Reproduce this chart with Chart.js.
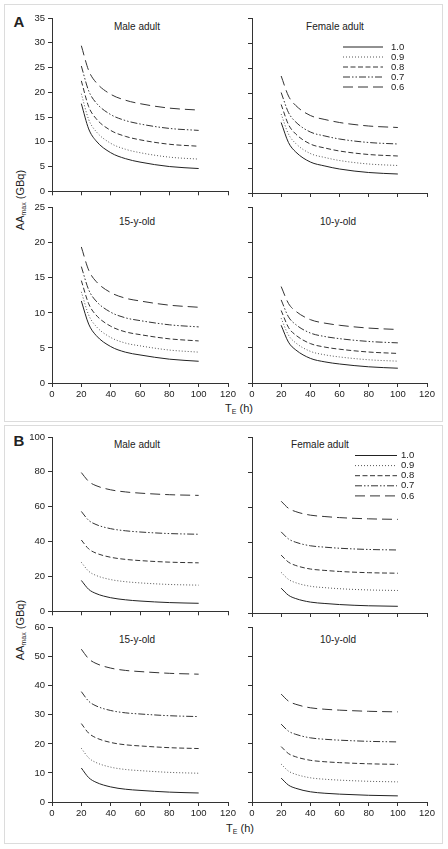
<!DOCTYPE html>
<html>
<head>
<meta charset="utf-8">
<script src="https://cdn.jsdelivr.net/npm/chart.js@4.4.1/dist/chart.umd.min.js"></script>
<style>
    body { margin: 0; background: #fff; width: 448px; height: 849px; position: relative; overflow: hidden;
           font-family: "Liberation Sans", Arial, sans-serif; color: #222; }
    .frame { position: absolute; border: 1.5px solid #dcdcdc; box-sizing: border-box; }
    canvas { position: absolute; }
    .txt { position: absolute; white-space: nowrap; font-size: 10px; transform: translate(-50%, -50%); }
    .tag { font-size: 15px; font-weight: bold; }
    .ytitle { font-size: 11px; transform: translate(-50%, -50%) rotate(-90deg); }
    .xtitle { font-size: 11px; }
    sub { font-size: 7px; vertical-align: -2px; }
</style>
</head>
<body>
<div class="frame" style="left:4px; top:4px; width:439px; height:418px;"></div>
<div class="frame" style="left:4px; top:425px; width:439px; height:419px;"></div>

<div class="txt tag" style="left:19px; top:21px;">A</div>
<div class="txt tag" style="left:19px; top:440px;">B</div>

<div class="txt" style="left:137px; top:26px;">Male adult</div>
<div class="txt" style="left:335px; top:26px;">Female adult</div>
<div class="txt" style="left:137px; top:221px;">15-y-old</div>
<div class="txt" style="left:338px; top:221px;">10-y-old</div>
<div class="txt" style="left:137px; top:444px;">Male adult</div>
<div class="txt" style="left:320px; top:444px;">Female adult</div>
<div class="txt" style="left:137px; top:639px;">15-y-old</div>
<div class="txt" style="left:338px; top:639px;">10-y-old</div>

<div class="txt ytitle" style="left:20px; top:200px;">AA<sub>max</sub> (GBq)</div>
<div class="txt ytitle" style="left:20px; top:630px;">AA<sub>max</sub> (GBq)</div>
<div class="txt xtitle" style="left:239px; top:408px;">T<sub>E</sub> (h)</div>
<div class="txt xtitle" style="left:240px; top:828px;">T<sub>E</sub> (h)</div>

<script>
// T_E (h) sample points
const TE = [20, 25, 30, 40, 50, 60, 80, 100];
const FRACTIONS = ['1.0', '0.9', '0.8', '0.7', '0.6'];

// panel A, rows in FRACTIONS order
const aMaleAdult = [
    [17.7, 12.6, 10.2, 7.8, 6.6, 5.9, 5.0, 4.6],
    [19.7, 14.5, 12.1, 9.7, 8.5, 7.8, 6.9, 6.5],
    [22.3, 17.1, 14.7, 12.3, 11.1, 10.4, 9.5, 9.1],
    [25.3, 20.3, 17.9, 15.5, 14.3, 13.6, 12.7, 12.3],
    [29.4, 24.4, 22.0, 19.6, 18.4, 17.7, 16.8, 16.4]
];
const aFemaleAdult = [
    [14.1, 10.1, 8.2, 6.2, 5.4, 4.8, 4.1, 3.8],
    [15.8, 11.8, 9.9, 7.9, 7.1, 6.5, 5.8, 5.5],
    [17.7, 13.7, 11.8, 9.8, 9.0, 8.4, 7.7, 7.4],
    [20.1, 16.1, 14.2, 12.2, 11.4, 10.8, 10.1, 9.8],
    [23.4, 19.4, 17.5, 15.5, 14.7, 14.1, 13.4, 13.1]
];
const a15yOld = [
    [11.7, 8.4, 6.8, 5.2, 4.4, 4.0, 3.4, 3.1],
    [13.0, 9.7, 8.1, 6.5, 5.7, 5.3, 4.7, 4.4],
    [14.6, 11.3, 9.7, 8.1, 7.3, 6.9, 6.3, 6.0],
    [16.6, 13.3, 11.7, 10.1, 9.3, 8.9, 8.3, 8.0],
    [19.4, 16.1, 14.5, 12.9, 12.1, 11.7, 11.1, 10.8]
];
const a10yOld = [
    [8.2, 5.8, 4.7, 3.5, 3.0, 2.7, 2.3, 2.1],
    [9.2, 6.8, 5.7, 4.5, 4.0, 3.7, 3.3, 3.1],
    [10.3, 7.9, 6.8, 5.6, 5.1, 4.8, 4.4, 4.2],
    [11.8, 9.4, 8.3, 7.1, 6.6, 6.3, 5.9, 5.7],
    [13.7, 11.3, 10.2, 9.0, 8.5, 8.2, 7.8, 7.6]
];

// panel B
const bMaleAdult = [
    [17.7, 12.6, 10.2, 7.8, 6.6, 5.9, 5.0, 4.6],
    [28.1, 23.0, 20.6, 18.2, 17.0, 16.3, 15.4, 15.0],
    [40.9, 35.8, 33.4, 31.0, 29.8, 29.1, 28.2, 27.8],
    [57.3, 52.2, 49.8, 47.4, 46.2, 45.5, 44.6, 44.2],
    [79.6, 74.5, 72.1, 69.7, 68.5, 67.8, 66.9, 66.5]
];
const bFemaleAdult = [
    [14.1, 10.1, 8.2, 6.2, 5.4, 4.8, 4.1, 3.8],
    [23.1, 19.1, 17.2, 15.2, 14.4, 13.8, 13.1, 12.8],
    [32.9, 28.9, 27.0, 25.0, 24.2, 23.6, 22.9, 22.6],
    [46.1, 42.1, 40.2, 38.2, 37.4, 36.8, 36.1, 35.8],
    [63.5, 59.5, 57.6, 55.6, 54.8, 54.2, 53.5, 53.2]
];
const b15yOld = [
    [11.7, 8.4, 6.8, 5.2, 4.4, 4.0, 3.4, 3.1],
    [18.5, 15.2, 13.6, 12.0, 11.2, 10.8, 10.2, 9.9],
    [27.0, 23.7, 22.1, 20.5, 19.7, 19.3, 18.7, 18.4],
    [38.0, 34.7, 33.1, 31.5, 30.7, 30.3, 29.7, 29.4],
    [52.6, 49.3, 47.7, 46.1, 45.3, 44.9, 44.3, 44.0]
];
const b10yOld = [
    [8.2, 5.8, 4.7, 3.5, 3.0, 2.7, 2.3, 2.1],
    [13.0, 10.6, 9.5, 8.3, 7.8, 7.5, 7.1, 6.9],
    [19.0, 16.6, 15.5, 14.3, 13.8, 13.5, 13.1, 12.9],
    [26.7, 24.3, 23.2, 22.0, 21.5, 21.2, 20.8, 20.6],
    [37.0, 34.6, 33.5, 32.3, 31.8, 31.5, 31.1, 30.9]
];

// line style per fraction
const DASHES = [[], [1, 2], [5, 2.5], [7, 2, 1.5, 2, 1.5, 2], [10, 5]];
const LINE_COLORS = ['#222', '#555', '#333', '#333', '#333'];
const LINE_WIDTHS = [1, 1, 1, 1, 1];

const FONT = '"Liberation Sans", Arial, sans-serif';

// legend drawn inside the plot area
const lineKeyPlugin = {
    id: 'lineKey',
    afterDraw(chart, args, opts) {
        if (!opts || !opts.show) return;
        const ctx = chart.ctx;
        ctx.save();
        chart.data.datasets.forEach((ds, i) => {
            const y = opts.y + i * opts.dy;
            ctx.beginPath();
            ctx.setLineDash(ds.borderDash);
            ctx.lineWidth = ds.borderWidth;
            ctx.strokeStyle = ds.borderColor;
            ctx.moveTo(opts.x0, y);
            ctx.lineTo(opts.x1, y);
            ctx.stroke();
            ctx.setLineDash([]);
            ctx.fillStyle = '#222';
            ctx.font = '9.5px ' + FONT;
            ctx.textBaseline = 'middle';
            ctx.fillText(ds.label, opts.tx, y);
        });
        ctx.restore();
    }
};

const panels = [
    { rows: aMaleAdult,   left: 22,  top: 8,   w: 218, h: 192, plot: [52, 18, 228, 193],  yMax: 35,  yStep: 5,  yLab: true,  xLab: false },
    { rows: aFemaleAdult, left: 240, top: 8,   w: 202, h: 192, plot: [252, 18, 427, 193], yMax: 35,  yStep: 5,  yLab: false, xLab: false,
      key: { x0: 343, x1: 383, tx: 391, y: 47, dy: 10 } },
    { rows: a15yOld,      left: 22,  top: 199, w: 218, h: 203, plot: [52, 207, 228, 383], yMax: 25,  yStep: 5,  yLab: true,  xLab: true },
    { rows: a10yOld,      left: 240, top: 199, w: 202, h: 203, plot: [252, 207, 427, 383],yMax: 25,  yStep: 5,  yLab: false, xLab: true },
    { rows: bMaleAdult,   left: 22,  top: 428, w: 218, h: 192, plot: [52, 437, 228, 613], yMax: 100, yStep: 20, yLab: true,  xLab: false },
    { rows: bFemaleAdult, left: 240, top: 428, w: 202, h: 192, plot: [252, 437, 427, 613],yMax: 100, yStep: 20, yLab: false, xLab: false,
      key: { x0: 355, x1: 397, tx: 401, y: 455.5, dy: 10.1 } },
    { rows: b15yOld,      left: 22,  top: 619, w: 218, h: 203, plot: [52, 627, 228, 802], yMax: 60,  yStep: 10, yLab: true,  xLab: true },
    { rows: b10yOld,      left: 240, top: 619, w: 202, h: 203, plot: [252, 627, 427, 802],yMax: 60,  yStep: 10, yLab: false, xLab: true }
];

panels.forEach(p => {
    const canvas = document.createElement('canvas');
    canvas.width = p.w;
    canvas.height = p.h;
    canvas.style.left = p.left + 'px';
    canvas.style.top = p.top + 'px';
    document.body.appendChild(canvas);

    const yWidth = p.plot[0] - p.left;
    const padRight = p.left + p.w - p.plot[2];
    const padTop = p.plot[1] - p.top;
    const xHeight = p.top + p.h - p.plot[3];

    const datasets = p.rows.map((vals, i) => ({
        label: FRACTIONS[i],
        data: vals.map((v, j) => ({ x: TE[j], y: v })),
        borderColor: LINE_COLORS[i],
        borderWidth: LINE_WIDTHS[i],
        borderDash: DASHES[i],
        pointRadius: 0,
        fill: false,
        cubicInterpolationMode: 'monotone'
    }));

    const key = p.key ? {
        show: true,
        x0: p.key.x0 - p.left, x1: p.key.x1 - p.left,
        tx: p.key.tx - p.left, y: p.key.y - p.top, dy: p.key.dy
    } : { show: false };

    const axisColor = '#333';
    new Chart(canvas.getContext('2d'), {
        type: 'line',
        data: { datasets },
        plugins: [lineKeyPlugin],
        options: {
            responsive: false,
            animation: false,
            layout: { padding: { top: padTop, right: padRight, left: 0, bottom: 0 } },
            plugins: { legend: { display: false }, tooltip: { enabled: false }, lineKey: key },
            scales: {
                x: {
                    type: 'linear', min: 0, max: 120,
                    ticks: { stepSize: 20, display: p.xLab, color: '#222', padding: 2, maxRotation: 0,
                             font: { family: FONT, size: 9.5 } },
                    grid: { drawOnChartArea: false, tickLength: 4, color: axisColor },
                    border: { color: axisColor, width: 1 },
                    afterFit: s => { s.height = xHeight; }
                },
                y: {
                    type: 'linear', min: 0, max: p.yMax,
                    ticks: { stepSize: p.yStep, display: p.yLab, color: '#222', padding: 3,
                             font: { family: FONT, size: 9.5 } },
                    grid: { drawOnChartArea: false, tickLength: 4, color: axisColor },
                    border: { color: axisColor, width: 1 },
                    afterFit: s => { s.width = yWidth; }
                }
            }
        }
    });
});
</script>
</body>
</html>
